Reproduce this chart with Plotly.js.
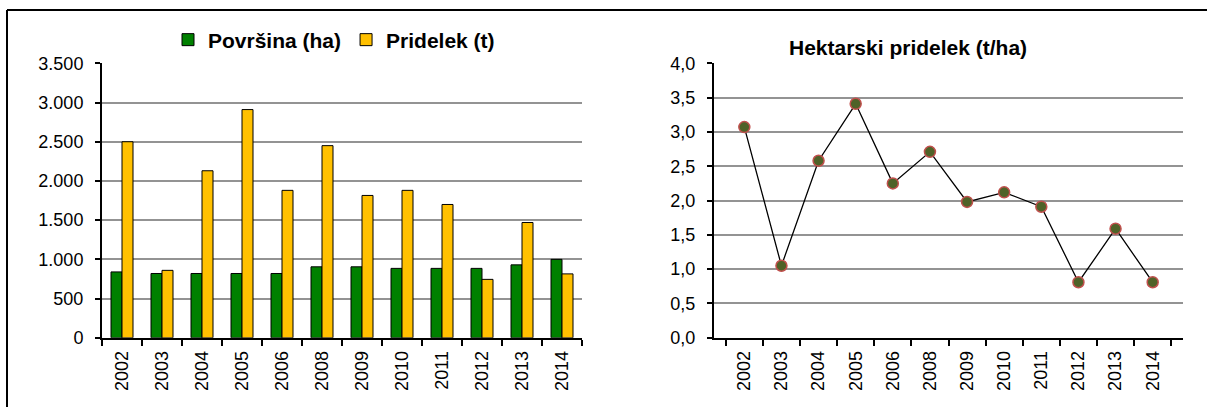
<!DOCTYPE html>
<html>
<head>
<meta charset="utf-8">
<script src="https://cdn.plot.ly/plotly-3.0.1.min.js"></script>
<style>
html,body{margin:0;padding:0;background:#fff;}
#chart{width:1207px;height:407px;}
</style>
</head>
<body>
<div id="chart"></div>
<script>
// Data
var years = ['2002','2003','2004','2005','2006','2008','2009','2010','2011','2012','2013','2014'];
var povrsina = [840, 820, 820, 820, 820, 905, 905, 885, 885, 885, 930, 1000];   // ha
var pridelek = [2500, 860, 2130, 2910, 1880, 2450, 1815, 1880, 1700, 745, 1470, 815]; // t
var hektarski = [3.07, 1.05, 2.58, 3.41, 2.25, 2.71, 1.98, 2.12, 1.91, 0.81, 1.59, 0.81]; // t/ha
var leftTicks = [0, 500, 1000, 1500, 2000, 2500, 3000, 3500];
var rightTicks = [0, 0.5, 1.0, 1.5, 2.0, 2.5, 3.0, 3.5, 4.0];

var W = 1207, H = 407;
var FONT = 'Liberation Sans, Arial, sans-serif';

var traces = [
  {type:'bar', name:'Površina (ha)', x:years, y:povrsina, xaxis:'x', yaxis:'y',
   marker:{color:'#008000', line:{color:'#000', width:1}}, hoverinfo:'x+y'},
  {type:'bar', name:'Pridelek (t)', x:years, y:pridelek, xaxis:'x', yaxis:'y',
   marker:{color:'#FFC000', line:{color:'#000', width:1}}, hoverinfo:'x+y'},
  {type:'scatter', mode:'lines+markers', name:'Hektarski pridelek (t/ha)', x:years, y:hektarski,
   xaxis:'x2', yaxis:'y2', showlegend:false,
   line:{color:'#000', width:1.3},
   marker:{size:11, color:'#4F6228', line:{color:'#C0504D', width:1.5}}}
];

var yTop = 1 - 63.3/H, yBot = 1 - 337.8/H;

function xax(dom, anchor){
  return {domain:dom, anchor:anchor, type:'category', showline:true, linecolor:'#000', linewidth:2,
    ticks:'outside', ticklen:6, tickwidth:1.5, tickcolor:'#000', tickson:'boundaries',
    tickangle:-90, ticklabelstandoff:4, showgrid:false, zeroline:false,
    tickfont:{family:FONT, size:18, color:'#000'}, fixedrange:true};
}
function yax(dom, anchor, range, ticks, fmt){
  return {domain:dom, anchor:anchor, range:range, tickmode:'array', tickvals:ticks, tickformat:fmt,
    showline:true, linecolor:'#000', linewidth:2, ticks:'outside', ticklen:5, tickwidth:1.5, tickcolor:'#000',
    showgrid:true, gridcolor:'#939393', gridwidth:2, zeroline:false, ticklabelstandoff:8,
    tickfont:{family:FONT, size:18, color:'#000'}, fixedrange:true};
}

var layout = {
  width:W, height:H,
  margin:{l:0, r:0, t:0, b:0},
  paper_bgcolor:'#fff', plot_bgcolor:'#fff',
  separators:',.',
  font:{family:FONT, color:'#000'},
  barmode:'group', bargap:0.45, bargroupgap:0,
  xaxis: xax([102/W, 582/W], 'y'),
  yaxis: yax([yBot, yTop], 'x', [0, 3500], leftTicks, ',d'),
  xaxis2: xax([714/W, 1183/W], 'y2'),
  yaxis2: yax([yBot, yTop], 'x2', [0, 4], rightTicks, '.1f'),
  showlegend:true,
  legend:{orientation:'h', x:168/W, xanchor:'left', y:1-40/H, yanchor:'middle',
    bgcolor:'rgba(0,0,0,0)', itemwidth:30, tracegroupgap:0,
    font:{family:FONT, size:21, weight:'bold', color:'#000'}},
  annotations:[
    {text:'Hektarski pridelek (t/ha)', xref:'paper', yref:'paper', x:908/W, y:1-47/H,
     xanchor:'center', yanchor:'middle', showarrow:false,
     font:{family:FONT, size:21, weight:'bold', color:'#000'}}
  ],
  shapes:[
    {type:'line', xref:'paper', yref:'paper', x0:7/W, x1:1, y0:1-10/H, y1:1-10/H, line:{color:'#000', width:2}},
    {type:'line', xref:'paper', yref:'paper', x0:7/W, x1:7/W, y0:1-10/H, y1:0, line:{color:'#000', width:2}}
  ]
};

Plotly.newPlot('chart', traces, layout, {displayModeBar:false});
</script>
</body>
</html>
